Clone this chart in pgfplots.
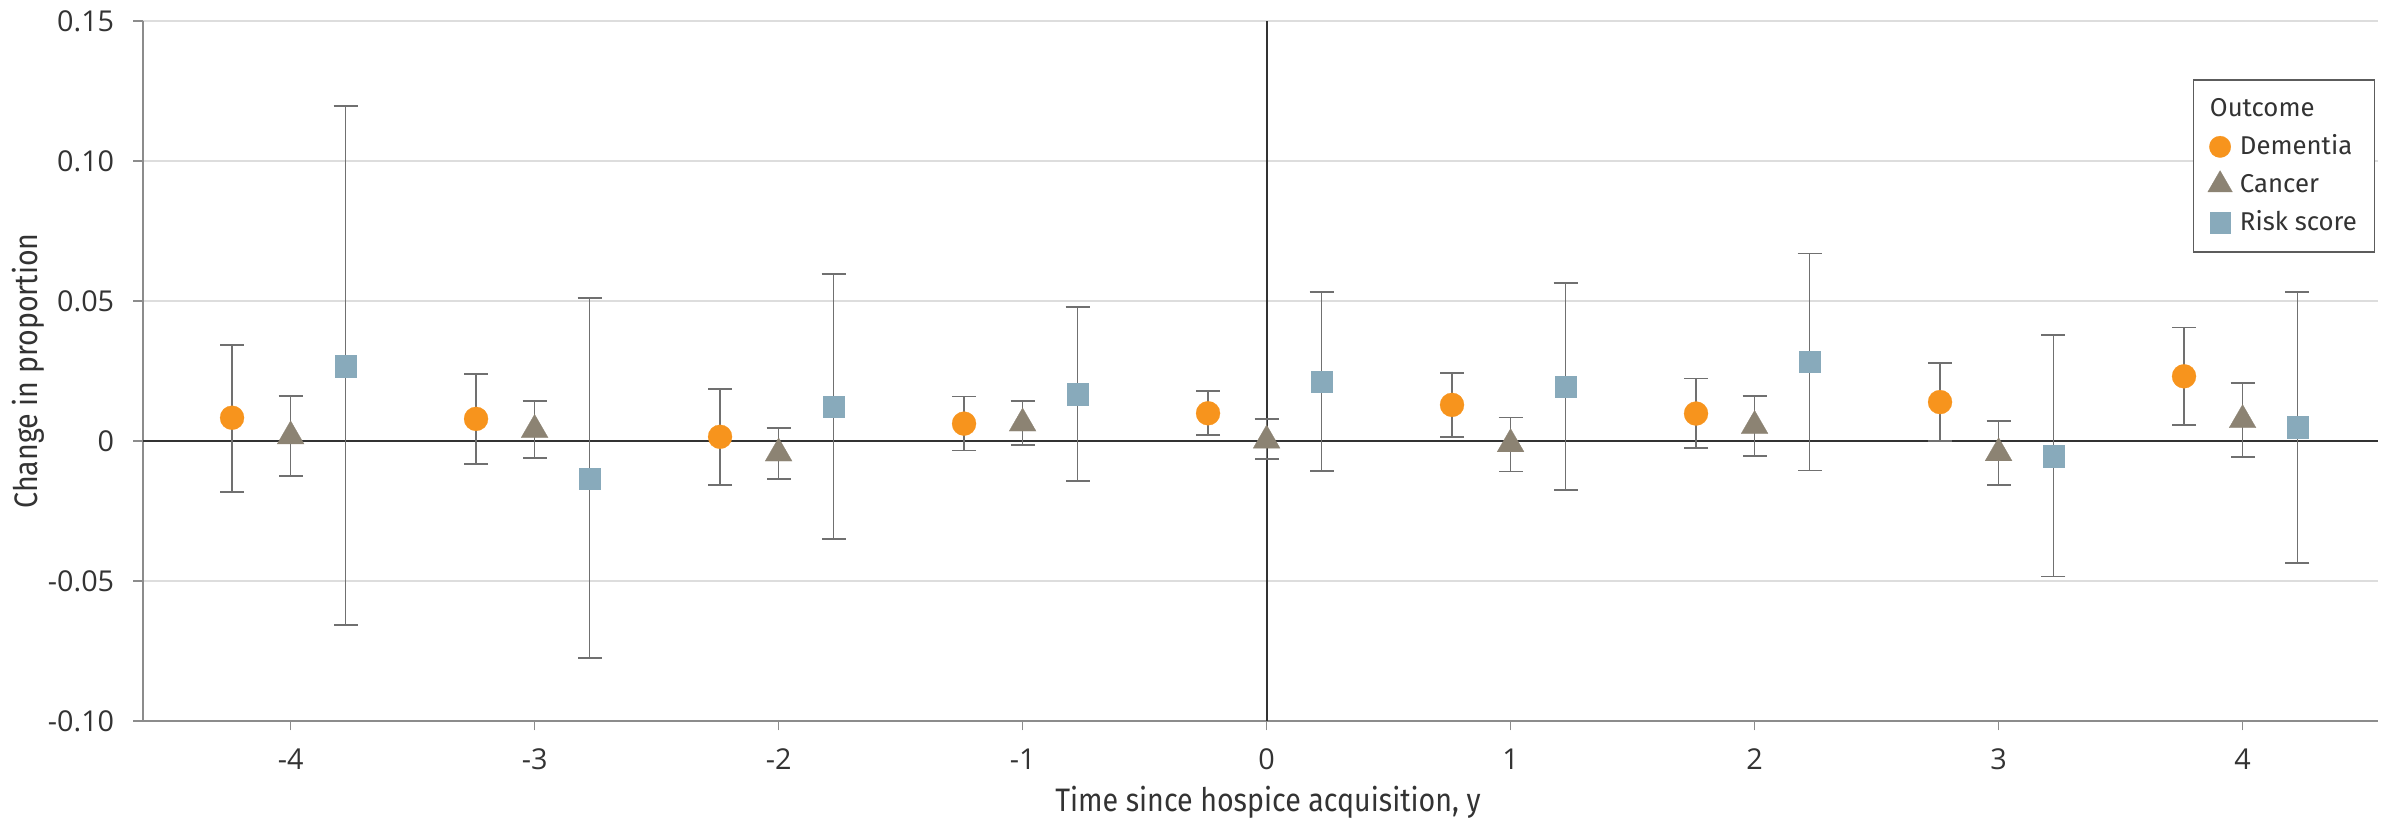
\documentclass[border=0pt]{standalone}
\usepackage{pgfplots}
\pgfplotsset{compat=1.18}
\usepackage{pgfplotstable}
\usepackage{fontspec}
\setmainfont{Open Sans}
\newfontfamily\labelfont[FakeStretch=0.88]{Fira Sans}
\newfontfamily\legfont{Fira Sans}
\definecolor{dem}{HTML}{F7941D}
\definecolor{can}{HTML}{8C8373}
\definecolor{risk}{HTML}{88AABB}
\definecolor{axgray}{HTML}{8C8C8C}
\definecolor{gridgray}{HTML}{DDDDDD}
\definecolor{errgray}{HTML}{707070}
\definecolor{zerol}{HTML}{333333}
\definecolor{txt}{HTML}{333333}

\pgfplotstableread{
x y lo hi
-4.24 0.0083 -0.0182 0.0343
-3.24 0.0079 -0.0083 0.0238
-2.24 0.0015 -0.0156 0.0186
-1.24 0.0062 -0.0034 0.0159
-0.24 0.0099 0.0021 0.0178
0.76 0.0129 0.0013 0.0244
1.76 0.0098 -0.0026 0.0223
2.76 0.0139 0.0000 0.0279
3.76 0.0231 0.0056 0.0405
}\dementia

\pgfplotstableread{
x y lo hi
-4 0.0017 -0.0124 0.0161
-3 0.0040 -0.0062 0.0143
-2 -0.0044 -0.0135 0.0047
-1 0.0063 -0.0013 0.0143
0 0.0002 -0.0064 0.0079
1 -0.0011 -0.0109 0.0084
2 0.0054 -0.0054 0.0161
3 -0.0043 -0.0156 0.0071
4 0.0075 -0.0058 0.0206
}\cancer

\pgfplotstableread{
x y lo hi
-3.775 0.0268 -0.0656 0.1197
-2.775 -0.0135 -0.0776 0.0510
-1.775 0.0122 -0.0349 0.0596
-0.775 0.0167 -0.0143 0.0478
0.225 0.0212 -0.0107 0.0531
1.225 0.0195 -0.0174 0.0563
2.225 0.0283 -0.0105 0.0670
3.225 -0.0054 -0.0484 0.0379
4.225 0.0049 -0.0435 0.0531
}\risk

\begin{document}
\begin{tikzpicture}
\path[use as bounding box] (-57.2pt,-40.4pt) rectangle (899.6pt,288.4pt);
\begin{axis}[
  at={(0pt,0pt)}, anchor=south west,
  width=894pt, height=280pt, scale only axis,
  xmin=-4.605, xmax=4.555, ymin=-0.10, ymax=0.15,
  axis lines*=left,
  axis line style={axgray, line width=0.8pt},
  xtick={-4,-3,-2,-1,0,1,2,3,4},
  xticklabels={-4,-3,-2,-1,0,1,2,3,4},
  ytick={-0.10,-0.05,0,0.05,0.10,0.15},
  yticklabels={-0.10,-0.05,0,0.05,0.10,0.15},
  tick align=outside, major tick length=3.8pt,
  tick style={axgray, line width=0.6pt},
  ymajorgrids, grid style={gridgray, line width=0.6pt},
  ticklabel style={font=\fontsize{11.5}{13}\selectfont, text=txt},
  xticklabel style={anchor=north, yshift=-3.8pt},
  yticklabel style={anchor=east, xshift=-4.2pt},
  xlabel={Time since hospice acquisition, y},
  ylabel={Change in proportion},
  xlabel style={at={(axis description cs:0.5,0)}, anchor=base, yshift=-36.4pt, xshift=3pt, font=\labelfont\fontsize{13}{15}\selectfont, text=txt},
  ylabel style={at={(axis description cs:-0.04698,0.5)}, anchor=base, font=\labelfont\fontsize{13}{15}\selectfont, text=txt},
  legend style={at={(0.9987,0.917)}, anchor=north east, draw=zerol!80, line width=0.6pt,
    font=\legfont\fontsize{10.3}{12}\selectfont, text=txt,
    inner xsep=5pt, inner ysep=4pt, row sep=0pt, column sep=-11pt,
    nodes={inner sep=2pt, text height=8.6pt, text depth=2.6pt}},
  legend cell align=left,
  legend image code/.code={\draw[#1] plot coordinates {(0.2cm,0cm)};},
]
\addplot[zerol, line width=0.8pt, forget plot] coordinates {(-4.605,0) (4.555,0)};
\addplot[zerol, line width=0.8pt, forget plot] coordinates {(0,-0.10) (0,0.15)};

\addplot[dem, only marks, mark=*, mark size=4.8pt, mark options={draw=dem, fill=dem, line width=0.1pt}, forget plot,
  error bars/.cd, y dir=both, y explicit,
  error bar style={errgray, line width=0.7pt},
  error mark options={errgray, mark size=4.8pt, line width=0.7pt, rotate=90}]
  table[x=x, y=y, y error plus expr=\thisrow{hi}-\thisrow{y}, y error minus expr=\thisrow{y}-\thisrow{lo}] {\dementia};

\addplot[can, only marks, mark=triangle*, mark size=6.2pt, mark options={draw=can, fill=can, line width=0.1pt}, forget plot,
  error bars/.cd, y dir=both, y explicit,
  error bar style={errgray, line width=0.7pt},
  error mark options={errgray, mark size=4.8pt, line width=0.7pt, rotate=90}]
  table[x=x, y=y, y error plus expr=\thisrow{hi}-\thisrow{y}, y error minus expr=\thisrow{y}-\thisrow{lo}] {\cancer};

\addplot[risk, only marks, mark=square*, mark size=4.3pt, mark options={draw=risk, fill=risk, line width=0.1pt}, forget plot,
  error bars/.cd, y dir=both, y explicit,
  error bar style={errgray, line width=0.7pt},
  error mark options={errgray, mark size=4.8pt, line width=0.7pt, rotate=90}]
  table[x=x, y=y, y error plus expr=\thisrow{hi}-\thisrow{y}, y error minus expr=\thisrow{y}-\thisrow{lo}] {\risk};

\addlegendimage{empty legend}
\addlegendentry[xshift=-12pt]{Outcome}
\addlegendimage{dem, only marks, mark=*, mark size=4.3pt, mark options={draw=dem, fill=dem, line width=0.1pt}}
\addlegendentry{Dementia}
\addlegendimage{can, only marks, mark=triangle*, mark size=5.7pt, mark options={draw=can, fill=can, line width=0.1pt}}
\addlegendentry{Cancer}
\addlegendimage{risk, only marks, mark=square*, mark size=4.1pt, mark options={draw=risk, fill=risk, line width=0.1pt}}
\addlegendentry{Risk score}
\end{axis}
\end{tikzpicture}
\end{document}
